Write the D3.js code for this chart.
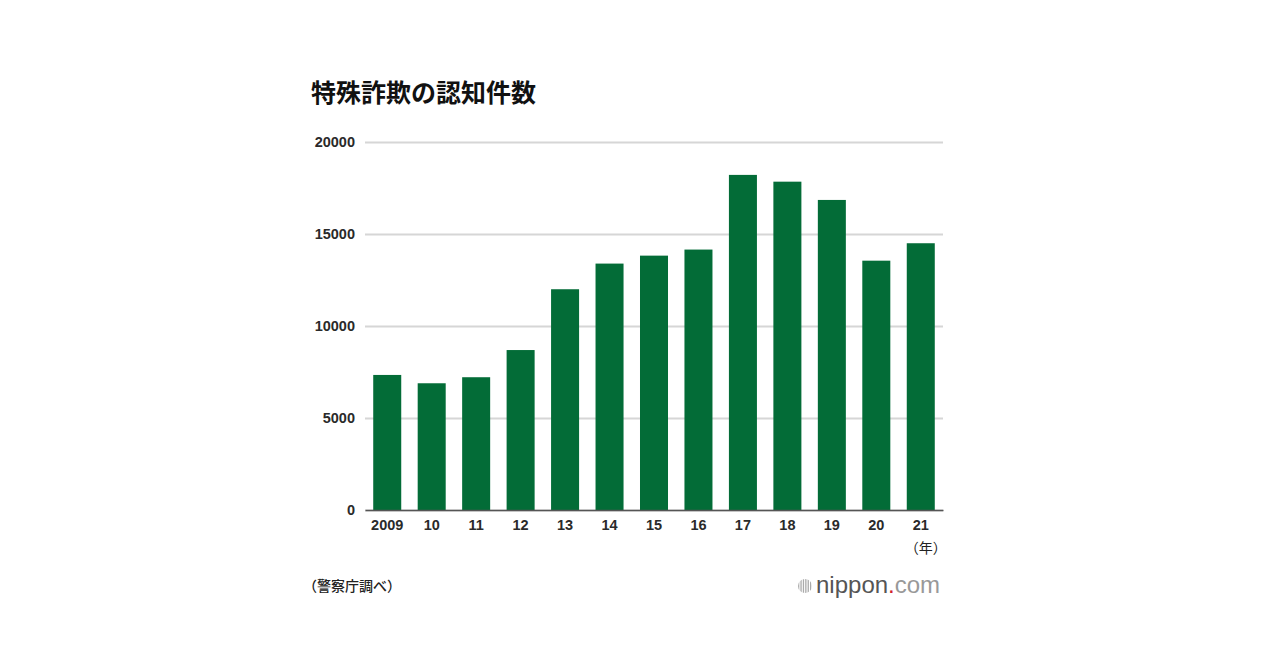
<!DOCTYPE html>
<html>
<head>
<meta charset="utf-8">
<script src="https://cdn.jsdelivr.net/npm/d3@7"></script>
<style>
  body { margin: 0; background: #fff; }
  text { font-family: "Liberation Sans", "Noto Sans CJK JP", sans-serif; }
</style>
</head>
<body>
<script>
// data
var years = ["2009", "10", "11", "12", "13", "14", "15", "16", "17", "18", "19", "20", "21"];
var counts = [7340, 6888, 7216, 8693, 11998, 13392, 13824, 14154, 18212, 17844, 16851, 13550, 14498];
var yTicks = [0, 5000, 10000, 15000, 20000];

var W = 1280, H = 670;
var margin = {top: 142, left: 365, right: 337, bottom: 160};
var width = W - margin.left - margin.right,
    height = H - margin.top - margin.bottom;

var svg = d3.select("body").append("svg")
    .attr("width", W)
    .attr("height", H);

// title
svg.append("text")
    .attr("x", 311).attr("y", 102)
    .attr("font-family", "'Noto Sans CJK JP', sans-serif")
    .attr("font-size", 25).attr("font-weight", 700)
    .attr("fill", "#111")
    .text("特殊詐欺の認知件数");

var g = svg.append("g")
    .attr("transform", "translate(" + margin.left + "," + margin.top + ")");

var x = d3.scaleBand().domain(years).range([0, width]).paddingInner(0.37).paddingOuter(0.185);
var y = d3.scaleLinear().domain([0, 20000]).range([height, 0]);

// grid + y labels
var yAxis = g.append("g")
    .call(d3.axisLeft(y).tickValues(yTicks).tickFormat(d3.format("d")).tickSize(-width).tickPadding(10));
yAxis.select(".domain").remove();
yAxis.selectAll(".tick line").attr("stroke", "#d6d6d6").attr("stroke-width", 2);
yAxis.selectAll(".tick text")
    .attr("font-family", "'Liberation Sans', sans-serif")
    .attr("font-size", 14.5).attr("font-weight", 700).attr("fill", "#2a2a2a");

// bars
g.selectAll(".bar")
    .data(counts)
    .enter().append("rect")
    .attr("class", "bar")
    .attr("x", function (d, i) { return x(years[i]); })
    .attr("width", x.bandwidth())
    .attr("y", function (d) { return y(d); })
    .attr("height", function (d) { return height - y(d); })
    .attr("fill", "#036c37");

// x axis
var xAxis = g.append("g")
    .attr("transform", "translate(0," + height + ")")
    .call(d3.axisBottom(x).tickSize(0).tickPadding(10).tickSizeOuter(0));
xAxis.select(".domain").attr("stroke", "#555").attr("stroke-width", 1.5);
xAxis.selectAll(".tick text")
    .attr("font-family", "'Liberation Sans', sans-serif")
    .attr("font-size", 14.5).attr("font-weight", 700).attr("fill", "#2a2a2a");

g.append("text")
    .attr("x", x("21") + x.bandwidth() / 2 + 5)
    .attr("y", height + 43)
    .attr("text-anchor", "middle")
    .attr("font-family", "'Noto Sans CJK JP', sans-serif")
    .attr("font-size", 14).attr("fill", "#222")
    .text("（年）");

// source
svg.append("text")
    .attr("x", 303).attr("y", 591)
    .attr("font-family", "'Noto Sans CJK JP', sans-serif")
    .attr("font-size", 14).attr("font-weight", 500).attr("fill", "#222")
    .text("（警察庁調べ）");

// logo
var logo = svg.append("g").attr("transform", "translate(805,586)");
logo.append("clipPath").attr("id", "lc").append("circle").attr("r", 7);
var stripes = logo.append("g").attr("clip-path", "url(#lc)");
d3.range(-7, 7, 2.4).forEach(function (sx) {
    stripes.append("rect").attr("x", sx).attr("y", -7).attr("width", 1.3).attr("height", 14).attr("fill", "#aaa");
});
var lt = logo.append("text")
    .attr("x", 11).attr("y", 7)
    .attr("font-family", "'Noto Sans', sans-serif")
    .attr("font-size", 24);
lt.append("tspan").attr("fill", "#555").attr("font-weight", 500).text("nippon");
lt.append("tspan").attr("fill", "#d0202e").attr("font-weight", 500).text(".");
lt.append("tspan").attr("fill", "#999").text("com");
</script>
</body>
</html>
